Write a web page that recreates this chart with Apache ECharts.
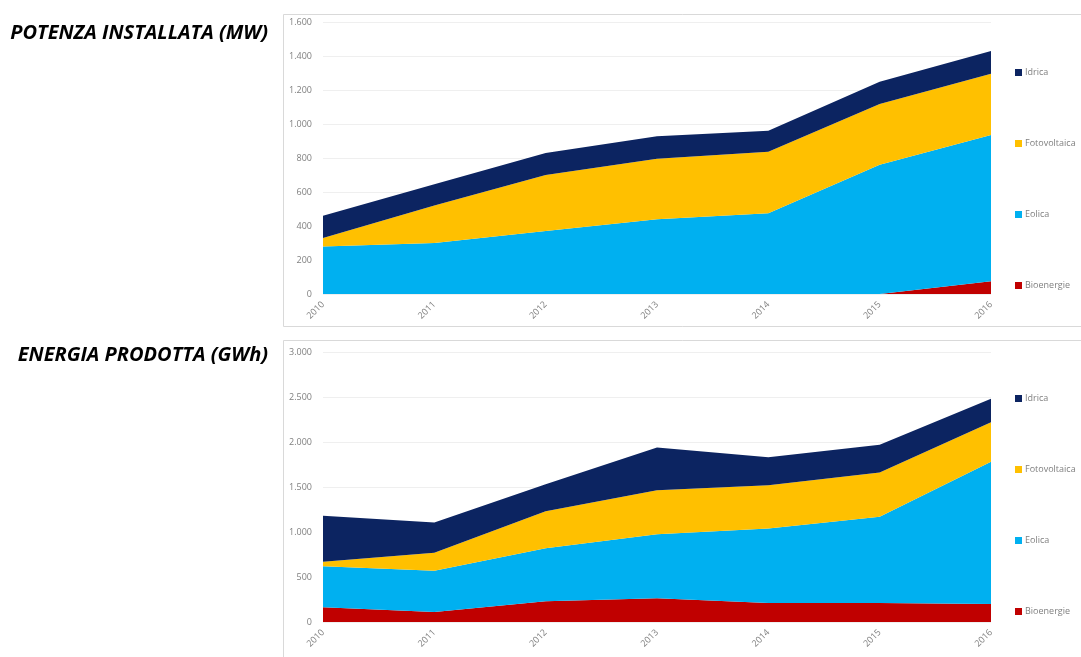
<!DOCTYPE html>
<html>
<head>
<meta charset="utf-8">
<script src="https://cdn.jsdelivr.net/npm/echarts@6/dist/echarts.min.js"></script>
<style>
html, body { margin: 0; padding: 0; background: #fff; }
#container { width: 1081px; height: 657px; }
</style>
</head>
<body>
<div id="container"></div>
<script>
var dom = document.getElementById("container");
var myChart = echarts.init(dom);

var anni = ['2010', '2011', '2012', '2013', '2014', '2015', '2016'];
var fonti = ['Idrica', 'Fotovoltaica', 'Eolica', 'Bioenergie'];
var colori = { Idrica: '#0c2461', Fotovoltaica: '#ffc000', Eolica: '#00b0f0', Bioenergie: '#c00000' };

// potenza installata (MW)
var potBio = [0, 0, 0, 0, 0, 0, 75];
var potEolica = [280, 300, 370, 440, 475, 760, 860];
var potFoto = [50, 220, 330, 355, 362, 358, 360];
var potIdrica = [130, 125, 130, 133, 124, 130, 135];

// energia prodotta (GWh)
var enBio = [165, 110, 230, 265, 210, 210, 200];
var enEolica = [455, 460, 590, 710, 830, 960, 1580];
var enFoto = [50, 200, 410, 490, 480, 490, 440];
var enIdrica = [510, 335, 300, 475, 310, 310, 260];

function fmt(v) {
    return String(v).replace(/\B(?=(\d{3})+(?!\d))/g, '.');
}

function serie(nome, dati, idx, stack) {
    return {
        name: nome,
        type: 'line',
        stack: stack,
        xAxisIndex: idx,
        yAxisIndex: idx,
        data: dati,
        symbol: 'none',
        lineStyle: { width: 0 },
        areaStyle: { color: colori[nome], opacity: 1 },
        itemStyle: { color: colori[nome] }
    };
}

function asseX(idx) {
    return {
        type: 'category',
        gridIndex: idx,
        data: anni,
        boundaryGap: false,
        axisLine: { show: false },
        axisTick: { show: false },
        axisLabel: { rotate: 45, fontSize: 9, color: '#7f7f7f', margin: 9, fontFamily: 'Open Sans' }
    };
}

function asseY(idx, max, step) {
    return {
        type: 'value',
        gridIndex: idx,
        min: 0,
        max: max,
        interval: step,
        axisLine: { show: false },
        axisTick: { show: false },
        splitLine: { lineStyle: { color: '#efefef' } },
        axisLabel: { fontSize: 9, color: '#7f7f7f', margin: 11, fontFamily: 'Open Sans', formatter: fmt }
    };
}

function legenda(idx, top) {
    return {
        orient: 'vertical',
        left: 1010,
        top: top,
        itemGap: 62,
        itemWidth: 7,
        itemHeight: 7,
        icon: 'rect',
        textStyle: { fontSize: 9, color: '#7f7f7f', padding: [0, 0, 0, -2], fontFamily: 'Open Sans' },
        data: fonti.map(function (f) { return { name: f, itemStyle: { color: colori[f] } }; })
    };
}

var option = {
    animation: false,
    backgroundColor: '#fff',
    legend: [legenda(0, 63), legenda(1, 389)],
    grid: [
        { left: 323, right: 90, top: 22, bottom: 363 },
        { left: 323, right: 90, top: 352, bottom: 35 }
    ],
    xAxis: [asseX(0), asseX(1)],
    yAxis: [asseY(0, 1600, 200), asseY(1, 3000, 500)],
    graphic: [
        { type: 'rect', shape: { x: 283.5, y: 14.5, width: 800, height: 312 }, style: { fill: 'none', stroke: '#d9d9d9', lineWidth: 1 } },
        { type: 'rect', shape: { x: 283.5, y: 340.5, width: 800, height: 330 }, style: { fill: 'none', stroke: '#d9d9d9', lineWidth: 1 } },
        { type: 'text', x: 268, y: 33, style: { text: 'POTENZA INSTALLATA (MW)', fill: '#000', align: 'right', verticalAlign: 'middle', font: 'italic bold 20px "Open Sans"' } },
        { type: 'text', x: 268, y: 355, style: { text: 'ENERGIA PRODOTTA (GWh)', fill: '#000', align: 'right', verticalAlign: 'middle', font: 'italic bold 20px "Open Sans"' } }
    ],
    series: [
        serie('Bioenergie', potBio, 0, 'pot'),
        serie('Eolica', potEolica, 0, 'pot'),
        serie('Fotovoltaica', potFoto, 0, 'pot'),
        serie('Idrica', potIdrica, 0, 'pot'),
        serie('Bioenergie', enBio, 1, 'en'),
        serie('Eolica', enEolica, 1, 'en'),
        serie('Fotovoltaica', enFoto, 1, 'en'),
        serie('Idrica', enIdrica, 1, 'en')
    ]
};

if (option && typeof option === "object") {
    myChart.setOption(option, true);
}
</script>
</body>
</html>
